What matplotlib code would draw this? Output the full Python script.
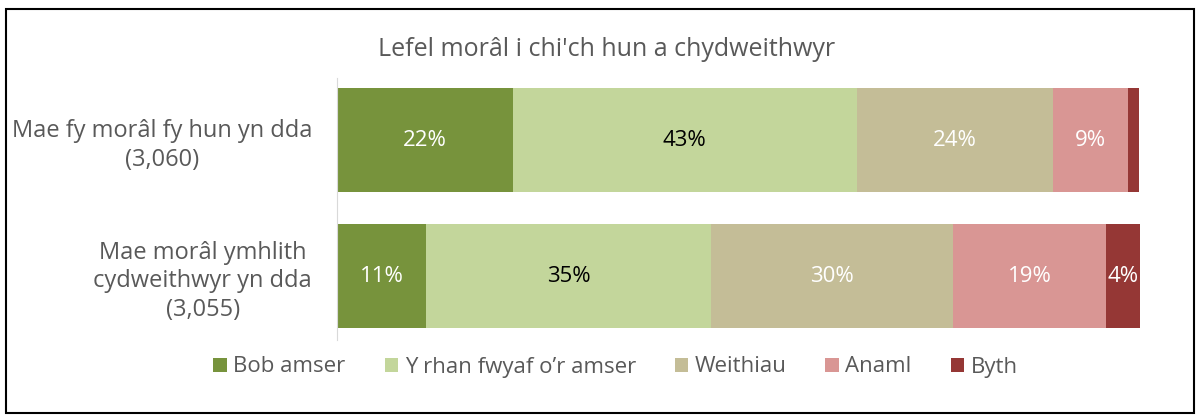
import matplotlib
matplotlib.use("Agg")
from matplotlib import pyplot as plt
from matplotlib.patches import Rectangle

plt.rcParams["font.family"] = ["Open Sans", "DejaVu Sans"]

title = "Lefel morâl i chi'ch hun a chydweithwyr"
categories = ["Mae morâl ymhlith\ncydweithwyr yn dda\n(3,055)",
              "Mae fy morâl fy hun yn dda\n(3,060)"]
series = ["Bob amser", "Y rhan fwyaf o\u2019r amser", "Weithiau", "Anaml", "Byth"]
colors = ["#77933C", "#C3D69B", "#C4BD97", "#D99694", "#953735"]
label_colors = ["white", "black", "white", "white", "white"]

# rows: bottom bar first, top bar second
values = [
    [11.1, 21.9],   # Bob amser
    [35.5, 42.8],   # Y rhan fwyaf o'r amser
    [30.1, 24.5],   # Weithiau
    [19.1, 9.3],    # Anaml
    [4.2, 1.4],     # Byth
]
labels = [
    ["11%", "22%"],
    ["35%", "43%"],
    ["30%", "24%"],
    ["19%", "9%"],
    ["4%", ""],
]

text_grey = "#595959"

fig = plt.figure(figsize=(12, 4.16), dpi=100)
ax = fig.add_axes([337 / 1200, 1 - 340 / 416, (1140 - 337) / 1200, (340 - 78) / 416])

y = list(range(len(categories)))
left = [0.0] * len(categories)
for name, vals, labs, col, lcol in zip(series, values, labels, colors, label_colors):
    bars = ax.barh(y, vals, left=left, height=0.765, color=col, label=name)
    for rect, lab in zip(bars, labs):
        if lab:
            ax.text(rect.get_x() + rect.get_width() / 2, rect.get_y() + rect.get_height() / 2,
                    lab, ha="center", va="center", color=lcol, fontsize=16)
    left = [a + b for a, b in zip(left, vals)]

ax.set_xlim(0, 100)
ax.set_ylim(-0.47, 1.456)
ax.set_xticks([])
ax.set_yticks(y)
ax.set_yticklabels(categories, fontsize=17, color=text_grey, ha="right",
                   multialignment="center", linespacing=1.25)
ax.tick_params(axis="y", length=0, pad=18)
for s in ["top", "right", "bottom"]:
    ax.spines[s].set_visible(False)
ax.spines["left"].set_color("#D9D9D9")

fig.text(0.5055, 1 - 50 / 416, title, ha="center", va="center", fontsize=18, color=text_grey)

fig.legend(loc="center", bbox_to_anchor=(0.513, 1 - 367 / 416), ncol=5, frameon=False,
           fontsize=16, handlelength=0.6, handleheight=0.6, handletextpad=0.3,
           columnspacing=1.75, labelcolor=text_grey)

fig.patches.append(Rectangle((6 / 1200, 3 / 416), 1188 / 1200, 404 / 416,
                             transform=fig.transFigure, fill=False,
                             edgecolor="black", linewidth=1.5))

fig.savefig("out.png", dpi=100)
